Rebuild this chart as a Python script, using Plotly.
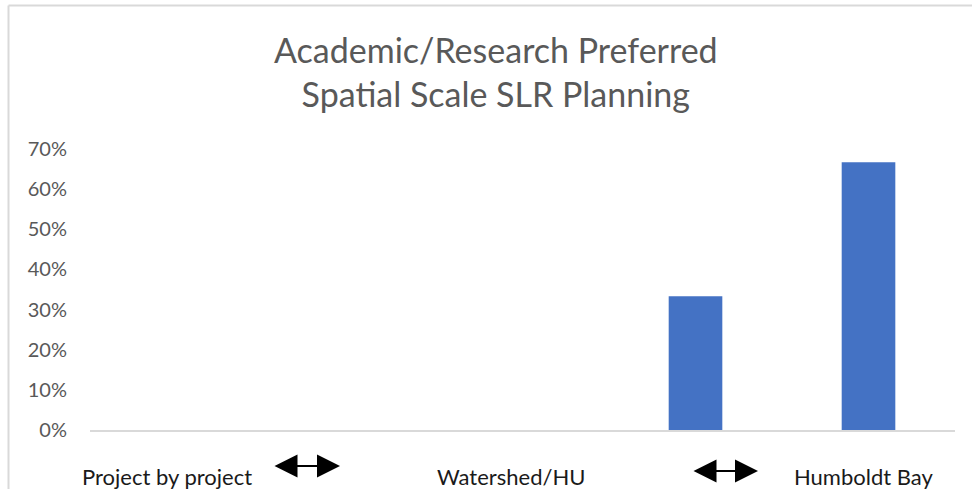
import plotly.graph_objects as go

# Data
categories = ["Project by project", "Project-Watershed", "Watershed/HU", "Watershed-Bay", "Humboldt Bay"]
shares = [0.0, 0.0, 0.0, 0.333, 0.667]
axis_labels = ["Project by project", "Watershed/HU", "Humboldt Bay"]
y_ticks = [0, 0.1, 0.2, 0.3, 0.4, 0.5, 0.6, 0.7]

W, H = 972, 489
L, R, T, B = 90, 17, 149, 59
PW, PH = W - L - R, H - T - B

def px(x):
    return (x - L) / PW

def py(y):
    return (H - B - y) / PH

FONT = "Lato"
fig = go.Figure(go.Bar(
    x=categories, y=shares,
    marker=dict(color="#4472C4", line=dict(width=0)),
    width=0.31,
    hoverinfo="x+y",
))

annotations = [
    dict(text="Academic/Research Preferred<br>Spatial Scale SLR Planning",
         xref="paper", yref="paper", x=px(496), y=py(71), xanchor="center", yanchor="middle",
         showarrow=False, font=dict(family=FONT, size=34, color="#595959")),
]
label_x = [167, 511, 864]
for lab, lx in zip(axis_labels, label_x):
    annotations.append(dict(text=lab, xref="paper", yref="paper", x=px(lx), y=py(476),
                            xanchor="center", yanchor="middle", showarrow=False,
                            font=dict(family=FONT, size=22, color="#1a1a1a")))
for (x0, x1, yy) in [(273, 340, 466), (692, 758, 471)]:
    annotations.append(dict(text="", xref="paper", yref="paper", x=px(x1), y=py(yy),
                            axref="pixel", ayref="pixel", ax=-(x1 - x0), ay=0,
                            showarrow=True, arrowside="end+start", arrowhead=2,
                            arrowsize=2.3, arrowwidth=2, arrowcolor="#000000",
                            standoff=0, startstandoff=0))

shapes = [
    dict(type="line", xref="paper", yref="paper", x0=px(8.5), x1=px(8.5), y0=py(5.5), y1=py(H + 5),
         line=dict(color="#d9d9d9", width=2)),
    dict(type="line", xref="paper", yref="paper", x0=px(8.5), x1=px(W + 5), y0=py(5.5), y1=py(5.5),
         line=dict(color="#d9d9d9", width=2)),
]

fig.update_layout(
    width=W, height=H,
    margin=dict(l=L, r=R, t=T, b=B, autoexpand=False),
    paper_bgcolor="white", plot_bgcolor="white",
    showlegend=False,
    annotations=annotations,
    shapes=shapes,
    xaxis=dict(type="category", range=[-0.5, 4.5], showticklabels=False, showgrid=False,
               showline=True, linecolor="#d9d9d9", linewidth=1.5, ticks="", zeroline=False, fixedrange=True),
    yaxis=dict(range=[0, 0.7], tickvals=y_ticks, tickformat=".0%", showgrid=False, zeroline=False,
               showline=False, ticks="", ticklabelstandoff=22,
               tickfont=dict(family=FONT, size=20, color="#595959"), fixedrange=True),
)

fig.write_html("out.html",
               config={"displayModeBar": False},
               post_script="document.body.style.margin='0px';document.body.style.overflow='hidden';")
